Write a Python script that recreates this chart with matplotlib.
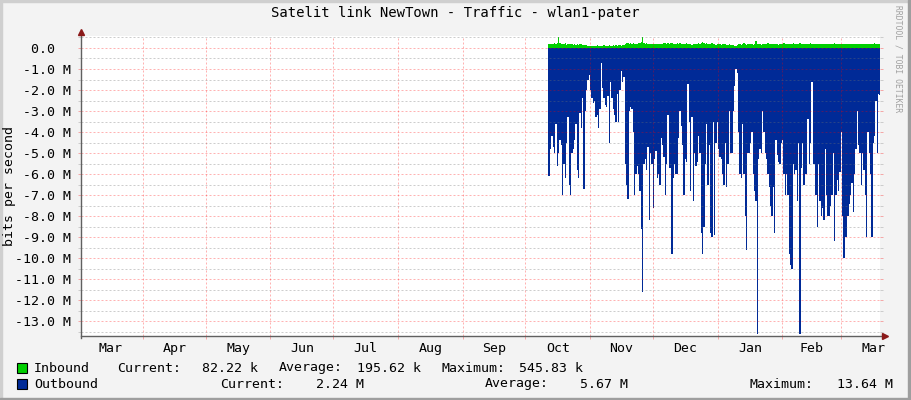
import matplotlib
matplotlib.use("Agg")
import matplotlib.pyplot as plt
import matplotlib.dates as mdates
import matplotlib.ticker as mticker
from matplotlib.patches import Rectangle
import numpy as np
import pandas as pd

# ---------------------------------------------------------------
# Data
# ---------------------------------------------------------------
title = "Satelit link NewTown - Traffic - wlan1-pater"
y_label = "bits per second"
watermark = "RRDTOOL / TOBI OETIKER"

view_start = "2009-03-02 08:00"
view_end = "2010-03-19 16:00"
data_start = "2009-10-11 19:00"
data_end = "2010-03-19 16:00"

# inbound traffic, kbit/s (drawn above zero)
inbound_k = [
    180, 202, 187, 173, 194, 216, 187, 238, 520, 216,
    187, 202, 173, 252, 158, 180, 194, 173, 187, 158,
    173, 158, 180, 151, 166, 194, 158, 144, 130, 122,
    108, 100, 115, 108, 100, 115, 108, 122, 108, 115,
    100, 108, 122, 108, 115, 100, 130, 108, 115, 122,
    108, 130, 115, 122, 144, 115, 158, 137, 173, 216,
    259, 202, 216, 187, 245, 202, 180, 194, 216, 252,
    288, 546, 259, 202, 216, 187, 202, 173, 187, 180,
    173, 194, 180, 202, 166, 187, 173, 216, 252, 202,
    238, 187, 216, 259, 194, 180, 202, 216, 173, 245,
    187, 173, 202, 166, 216, 187, 173, 194, 158, 180,
    173, 194, 180, 216, 187, 252, 302, 230, 202, 216,
    187, 202, 180, 216, 166, 187, 158, 173, 194, 180,
    158, 173, 187, 166, 144, 158, 173, 151, 130, 137,
    115, 100, 144, 173, 202, 158, 187, 216, 173, 158,
    187, 166, 180, 194, 158, 173, 324, 202, 187, 180,
    158, 187, 173, 202, 180, 216, 187, 166, 194, 173,
    187, 209, 180, 158, 187, 202, 173, 216, 187, 180,
    202, 187, 173, 194, 216, 180, 202, 187, 173, 252,
    194, 180, 173, 187, 166, 202, 187, 216, 194, 180,
    173, 187, 202, 180, 194, 173, 187, 202, 180, 173,
    194, 180, 173, 202, 187, 216, 180, 194, 173, 187,
    180, 202, 173, 187, 194, 180, 166, 187, 173, 194,
    180, 202, 187, 173, 194, 180, 209, 173, 187, 180,
    194, 173, 187, 202, 180, 216, 194, 173, 187, 180,
]

# outbound traffic, Mbit/s (drawn below zero)
outbound_m = [
    6.1, 6.1, 4.8, 4.2, 4.7, 5.0, 3.6, 5.6, 5.0, 4.4,
    4.6, 7.0, 5.5, 6.2, 4.5, 3.3, 6.5, 7.0, 5.0, 4.8,
    4.4, 3.6, 5.8, 6.2, 3.1, 3.8, 2.4, 6.7, 3.0, 2.0,
    1.5, 1.3, 2.0, 2.4, 2.6, 2.5, 3.3, 3.2, 3.8, 2.9,
    0.7, 1.9, 2.4, 2.7, 2.8, 2.3, 4.5, 1.6, 2.4, 2.9,
    3.2, 3.5, 2.2, 3.5, 2.0, 1.1, 1.6, 1.4, 5.5, 6.5,
    7.2, 3.0,
    2.8, 2.9, 4.0, 7.0, 6.0, 5.6, 6.0, 6.8, 8.6, 11.6,
    5.5, 5.3, 5.8, 4.7, 8.2, 5.0, 5.5, 7.6, 5.3, 4.9,
    6.2, 6.0, 6.5, 4.3, 4.6, 5.2, 7.0, 5.5, 3.2, 5.7,
    5.7, 9.8, 6.2, 5.5, 6.0, 6.0, 4.3, 3.0, 3.7, 4.6,
    7.0, 5.3, 5.4, 1.7, 3.5, 6.8, 3.3, 7.3, 5.0, 5.6,
    5.4, 4.2, 5.0, 8.8, 9.8, 8.5, 5.5, 3.6, 6.5, 4.6,
    8.8, 9.0, 3.5, 8.9,
    4.5, 3.5, 4.8, 5.2, 5.3, 6.0, 6.5, 4.5, 6.6, 5.5,
    3.0, 5.0, 5.0, 3.0, 1.8, 1.0, 1.2, 4.0, 6.0, 6.2,
    3.6, 6.0, 8.0, 9.6, 5.0, 5.0, 4.5, 4.0, 6.0, 6.8,
    7.3, 13.6, 5.3, 4.8, 5.0, 3.0, 4.0, 5.0, 5.3, 6.0,
    6.6, 7.5, 8.0, 6.6, 8.8, 4.4, 5.1, 5.4, 5.5, 4.5,
    4.4, 6.0, 7.0, 6.0, 7.0, 9.8, 10.3, 10.5, 5.5, 6.0,
    5.8, 7.3, 4.5, 13.6,
    5.7, 4.5, 6.5, 6.0, 6.0, 3.4, 5.5, 4.5, 1.6, 5.5,
    5.5, 7.0, 8.5, 5.5, 7.3, 8.0, 7.6, 8.2, 4.8, 7.0,
    8.0, 8.0, 7.5, 7.0, 5.0, 9.2, 7.0, 6.3, 6.8, 5.9,
    4.0, 8.0, 10.0, 9.0, 9.0, 8.0, 7.4, 7.0, 6.4, 7.8,
    6.0, 4.8, 3.0, 4.6, 5.0, 6.5, 5.0, 5.8, 7.0, 9.0,
    4.0, 5.0, 6.0, 9.0, 4.5, 4.2, 2.5, 5.0, 2.2, 2.24,
]

series_names = ["Inbound", "Outbound"]
stat_names = ["Current:", "Average:", "Maximum:"]
inbound_stats = ["82.22 k", "195.62 k", "545.83 k"]
outbound_stats = ["2.24 M", "5.67 M", "13.64 M"]

# ---------------------------------------------------------------
# Style
# ---------------------------------------------------------------
W, H = 911, 400
BG = "#F3F3F3"
GREEN = "#00CF00"
BLUE = "#002A97"
AXIS = "#606060"
ARROW = "#8B1A1A"
MGRID = "#FF0000"
GRID = "#707070"
DOTS = (0, (2, 2))
MONO = "DejaVu Sans Mono"
FS = 9.5

plt.rcParams["font.family"] = MONO


def fx(px):
    return px / W


def fy(py):
    return 1 - py / H


# ---------------------------------------------------------------
# Figure
# ---------------------------------------------------------------
fig = plt.figure(figsize=(W / 100, H / 100), dpi=100, facecolor=BG)

# 3d frame around the image
fig.patches.append(Rectangle((0, 1 - 2 / H), 1, 2 / H, transform=fig.transFigure, color="#CFCFCF", zorder=0))
fig.patches.append(Rectangle((0, 0), 2 / W, 1, transform=fig.transFigure, color="#CFCFCF", zorder=0))
fig.patches.append(Rectangle((1 - 3 / W, 0), 3 / W, 1, transform=fig.transFigure, color="#9E9E9E", zorder=0))
fig.patches.append(Rectangle((0, 0), 1, 2 / H, transform=fig.transFigure, color="#9E9E9E", zorder=0))

ax = fig.add_axes([fx(81), fy(336), fx(880) - fx(81), fy(36) - fy(336)])
ax.set_facecolor("white")

t = pd.date_range(data_start, data_end, periods=len(outbound_m))
inb = np.array(inbound_k) * 1e3
out = -np.array(outbound_m) * 1e6

ax.fill_between(t, 0, inb, step="mid", color=GREEN, lw=0, zorder=1)
ax.fill_between(t, out, 0, step="mid", color=BLUE, lw=0, zorder=1)

ax.set_xlim(pd.Timestamp(view_start), pd.Timestamp(view_end))
ax.set_ylim(-13.7e6, 0.57e6)

# y axis
ax.yaxis.set_major_locator(mticker.MultipleLocator(1e6))
ax.yaxis.set_minor_locator(mticker.MultipleLocator(0.5e6))


def yfmt(v, pos):
    if abs(v) < 1:
        return "0.0  "
    return f"{v / 1e6:.1f} M"


ax.yaxis.set_major_formatter(mticker.FuncFormatter(yfmt))

# x axis: grid at month starts, labels centred in each month
month_starts = pd.date_range("2009-03-01", "2010-04-01", freq="MS")
mid = [a + (b - a) / 2 for a, b in zip(month_starts[:-1], month_starts[1:])]
ax.xaxis.set_major_locator(mdates.MonthLocator())
ax.xaxis.set_major_formatter(mticker.NullFormatter())
ax.xaxis.set_minor_locator(mticker.FixedLocator(mdates.date2num(mid)))
ax.xaxis.set_minor_formatter(mticker.FixedFormatter([d.strftime("%b") for d in month_starts[:-1]]))

ax.tick_params(axis="x", which="major", length=2.5, width=0.72, color="#F4A8A8", labelbottom=False)
ax.tick_params(axis="x", which="minor", length=0, pad=4, labelsize=FS, labelcolor="black")
ax.tick_params(axis="y", which="major", length=2.5, width=0.72, color="#F4A8A8", pad=5,
               labelsize=FS, right=True)
ax.tick_params(axis="y", which="minor", length=2, width=0.72, color="#CCCCCC", right=True)

ax.set_axisbelow(False)
ax.grid(which="major", axis="both", color=MGRID, alpha=0.3, linestyle=DOTS, linewidth=0.72)
ax.grid(which="minor", axis="y", color=GRID, alpha=0.35, linestyle=DOTS, linewidth=0.72)

for s in ax.spines.values():
    s.set_visible(False)

# axis lines with arrows
ax.plot([0, 1.006], [0, 0], transform=ax.transAxes, color=AXIS, lw=1.0, clip_on=False, zorder=5)
ax.plot([0, 0], [-0.008, 1.012], transform=ax.transAxes, color=AXIS, lw=1.0, clip_on=False, zorder=5)
ax.plot([1.0063], [0], transform=ax.transAxes, marker=">", ms=4.5, color=ARROW, clip_on=False, zorder=6)
ax.plot([0], [1.015], transform=ax.transAxes, marker="^", ms=4.5, color=ARROW, clip_on=False, zorder=6)

# texts
fig.text(fx(455.5), fy(13), title, ha="center", va="center", fontsize=10)
fig.text(fx(10), fy(186), y_label, ha="center", va="center", rotation=90, fontsize=FS)
fig.text(fx(898), fy(5), watermark, ha="center", va="top", rotation=270, fontsize=5.8, color="#A0A0A0")

# legend
rows = [
    (series_names[0], GREEN, inbound_stats, 368, [117, 279, 441], [258, 421, 583]),
    (series_names[1], BLUE, outbound_stats, 384, [220, 485, 750], [364, 628, 893]),
]
for name, col, stats, yy, lab_x, val_x in rows:
    fig.patches.append(Rectangle((fx(17), fy(yy + 5)), 10 / W, 10 / H, transform=fig.transFigure,
                                 facecolor=col, edgecolor="black", lw=0.8))
    fig.text(fx(34), fy(yy), name, ha="left", va="center", fontsize=FS)
    for sn, sv, lx, vx in zip(stat_names, stats, lab_x, val_x):
        fig.text(fx(lx), fy(yy), sn, ha="left", va="center", fontsize=FS)
        fig.text(fx(vx), fy(yy), sv, ha="right", va="center", fontsize=FS)

fig.savefig("out.png", dpi=100, facecolor=fig.get_facecolor())
